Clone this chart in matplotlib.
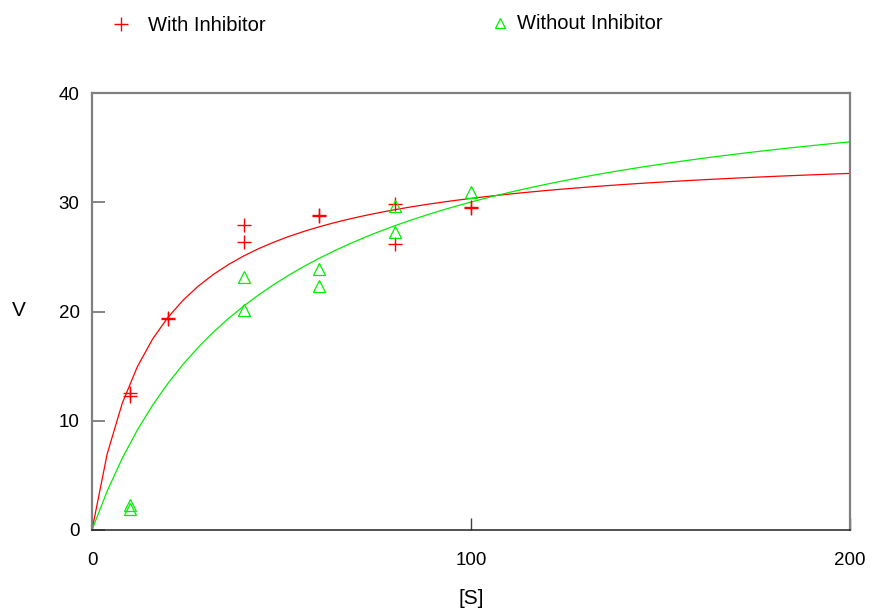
import numpy as np
import matplotlib
matplotlib.use("Agg")
import matplotlib.pyplot as plt
from matplotlib.lines import Line2D

plt.rcParams['font.family'] = ['Liberation Sans', 'DejaVu Sans']

# Data
s_with = [10, 10, 20, 20, 40, 40, 60, 60, 80, 80, 100, 100]
v_with = [12.5, 12.3, 19.3, 19.4, 27.9, 26.4, 28.8, 28.7, 29.8, 26.2, 29.5, 29.6]
s_without = [10, 10, 40, 40, 60, 60, 80, 80, 100]
v_without = [2.3, 1.9, 23.2, 20.1, 23.9, 22.3, 29.7, 27.3, 30.9]

# Michaelis-Menten fit parameters (estimated from the fitted curves)
vmax_with, km_with = 35.3, 16.3
vmax_without, km_without = 43.5, 44.9

x_ticks = [0, 100, 200]
y_ticks = [0, 10, 20, 30, 40]

RED = '#ff0000'
GREEN = '#00ee00'

fig = plt.figure(figsize=(8.72, 6.14), dpi=100)
ax = fig.add_axes([92/872, 1-530/614, (850-92)/872, (530-93)/614])

s_curve = np.linspace(0, 200, 51)
ax.plot(s_curve, vmax_with*s_curve/(km_with+s_curve), color=RED, lw=0.9, clip_on=False)
ax.plot(s_curve, vmax_without*s_curve/(km_without+s_curve), color=GREEN, lw=0.9, clip_on=False)

ax.plot(s_with, v_with, linestyle='none', marker='+', ms=10, mew=1.0, color=RED, clip_on=False)
ax.plot(s_without, v_without, linestyle='none', marker='^', ms=9, mew=0.9,
        mfc='none', mec=GREEN, clip_on=False)

ax.set_xlim(0, 200)
ax.set_ylim(0, 40)
ax.set_xticks(x_ticks)
ax.set_yticks(y_ticks)
ax.tick_params(axis='y', direction='in', length=9, width=1.2, color='#707070',
               labelsize=13.5, pad=9)
ax.tick_params(axis='x', direction='in', length=9, width=1.0, color='#404040',
               labelsize=13.5, pad=16)
for name, sp in ax.spines.items():
    sp.set_color('#808080')
    sp.set_linewidth(1.6)
ax.spines['bottom'].set_color('#202020')
ax.spines['bottom'].set_linewidth(1.1)

ax.set_xlabel('[S]', fontsize=15, labelpad=14)
fig.text(19/872, 1-310/614, 'V', fontsize=15, ha='center', va='center')

# Legend drawn at the top
fig.lines.append(Line2D([121/872], [1-24/614], marker='+', ms=10, mew=1.0,
                        color=RED, transform=fig.transFigure))
fig.text(148/872, 1-31/614, 'With Inhibitor', fontsize=14.5, ha='left', va='baseline')
fig.lines.append(Line2D([500/872], [1-23/614], marker='^', ms=7, mew=0.9,
                        mfc='none', mec=GREEN, transform=fig.transFigure))
fig.text(517/872, 1-29/614, 'Without Inhibitor', fontsize=14.5, ha='left', va='baseline')

fig.savefig('out.png', dpi=100)
